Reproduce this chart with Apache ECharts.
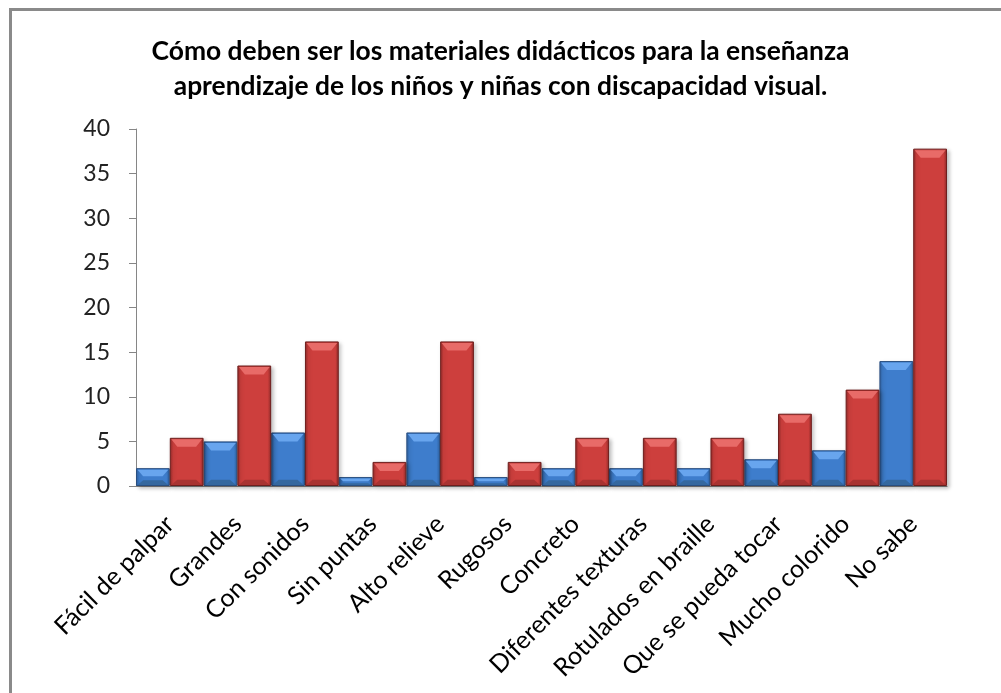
<!DOCTYPE html>
<html>
<head>
<meta charset="utf-8">
<script src="https://cdn.jsdelivr.net/npm/echarts@6/dist/echarts.min.js"></script>
<style>
html,body{margin:0;padding:0;background:#fff;}
#chart{width:1001px;height:693px;}
</style>
</head>
<body>
<div id="chart"></div>
<script>
var titleText = 'Cómo deben ser los materiales didácticos para la enseñanza\naprendizaje de los niños y niñas con discapacidad visual.';
var categories = ['Fácil de palpar','Grandes','Con sonidos','Sin puntas','Alto relieve','Rugosos','Concreto','Diferentes texturas','Rotulados en braille','Que se pueda tocar','Mucho colorido','No sabe'];
var countValues = [2,5,6,1,6,1,2,2,2,3,4,14];
var percentValues = [5.4,13.5,16.2,2.7,16.2,2.7,5.4,5.4,5.4,8.1,10.8,37.8];
var yTicks = {min:0, max:40, interval:5};

function hGrad(edge, mid) {
  return new echarts.graphic.LinearGradient(0,0,1,0,[
    {offset:0,color:edge},{offset:0.1,color:mid},{offset:0.9,color:mid},{offset:1,color:edge}
  ]);
}

function bevel(side, topColor, botColor) {
  return function (params, api) {
    var i = api.value(0), v = api.value(1);
    var top = api.coord([i, v]);
    var base = api.coord([i, 0]);
    var band = api.size([1, 0])[0];
    var x0 = side === 0 ? top[0] - band / 2 : top[0];
    var x1 = side === 0 ? top[0] : top[0] + band / 2;
    var h = base[1] - top[1];
    var cap = Math.min(9, h / 2.2);
    var inset = Math.min(6, cap * 0.7);
    return {
      type: 'group', silent: true,
      children: [{
        type: 'polygon',
        shape: {points: [[x0 + 1.5, top[1] + 1.5], [x1 - 1.5, top[1] + 1.5], [x1 - 1.5 - inset, top[1] + cap], [x0 + 1.5 + inset, top[1] + cap]]},
        style: {fill: topColor}
      }, {
        type: 'polygon',
        shape: {points: [[x0 + 1.5 + inset, base[1] - cap * 0.7], [x1 - 1.5 - inset, base[1] - cap * 0.7], [x1 - 1.5, base[1] - 1], [x0 + 1.5, base[1] - 1]]},
        style: {fill: botColor}
      }]
    };
  };
}

var chart = echarts.init(document.getElementById('chart'));
chart.setOption({
  animation:false,
  title:{
    text:titleText, left:'center', top:29,
    textStyle:{fontFamily:'Lato', fontWeight:'bold', fontSize:26.4, color:'#000', lineHeight:35}
  },
  graphic:[{
    type:'rect', shape:{x:10.5, y:9.5, width:1100, height:800},
    style:{fill:'none', stroke:'#8a8a8a', lineWidth:3}, silent:true
  }],
  grid:{left:136, right:54, top:129, bottom:207},
  xAxis:{
    type:'category', data:categories,
    axisLine:{lineStyle:{color:'#868686', width:1}},
    axisTick:{show:false},
    axisLabel:{rotate:45, fontFamily:'Lato', fontSize:25, color:'#000', margin:34, interval:0}
  },
  yAxis:{
    type:'value', min:yTicks.min, max:yTicks.max, interval:yTicks.interval,
    splitLine:{show:false},
    axisLine:{show:true, lineStyle:{color:'#868686', width:1}},
    axisTick:{show:true, length:7, lineStyle:{color:'#868686'}},
    axisLabel:{fontFamily:'Lato', fontSize:23, color:'#222', margin:26}
  },
  series:[{
    type:'bar', data:countValues, barGap:'0%', barCategoryGap:'0%',
    itemStyle:{color:hGrad('#2f609f','#3e7dcc'), borderColor:'#2a4f80', borderWidth:1,
      shadowColor:'rgba(0,0,0,0.25)', shadowBlur:4, shadowOffsetX:2, shadowOffsetY:2}
  },{
    type:'bar', data:percentValues, barGap:'0%', barCategoryGap:'0%',
    itemStyle:{color:hGrad('#8f2a28','#cd3f3d'), borderColor:'#6e1e1d', borderWidth:1,
      shadowColor:'rgba(0,0,0,0.25)', shadowBlur:4, shadowOffsetX:2, shadowOffsetY:2}
  },{
    type:'custom', data:countValues.map(function(v,i){return [i,v];}),
    renderItem:bevel(0,'#68a5ee','#35689f'), z:3, silent:true
  },{
    type:'custom', data:percentValues.map(function(v,i){return [i,v];}),
    renderItem:bevel(1,'#e86b68','#a83331'), z:3, silent:true
  }]
});
</script>
</body>
</html>
